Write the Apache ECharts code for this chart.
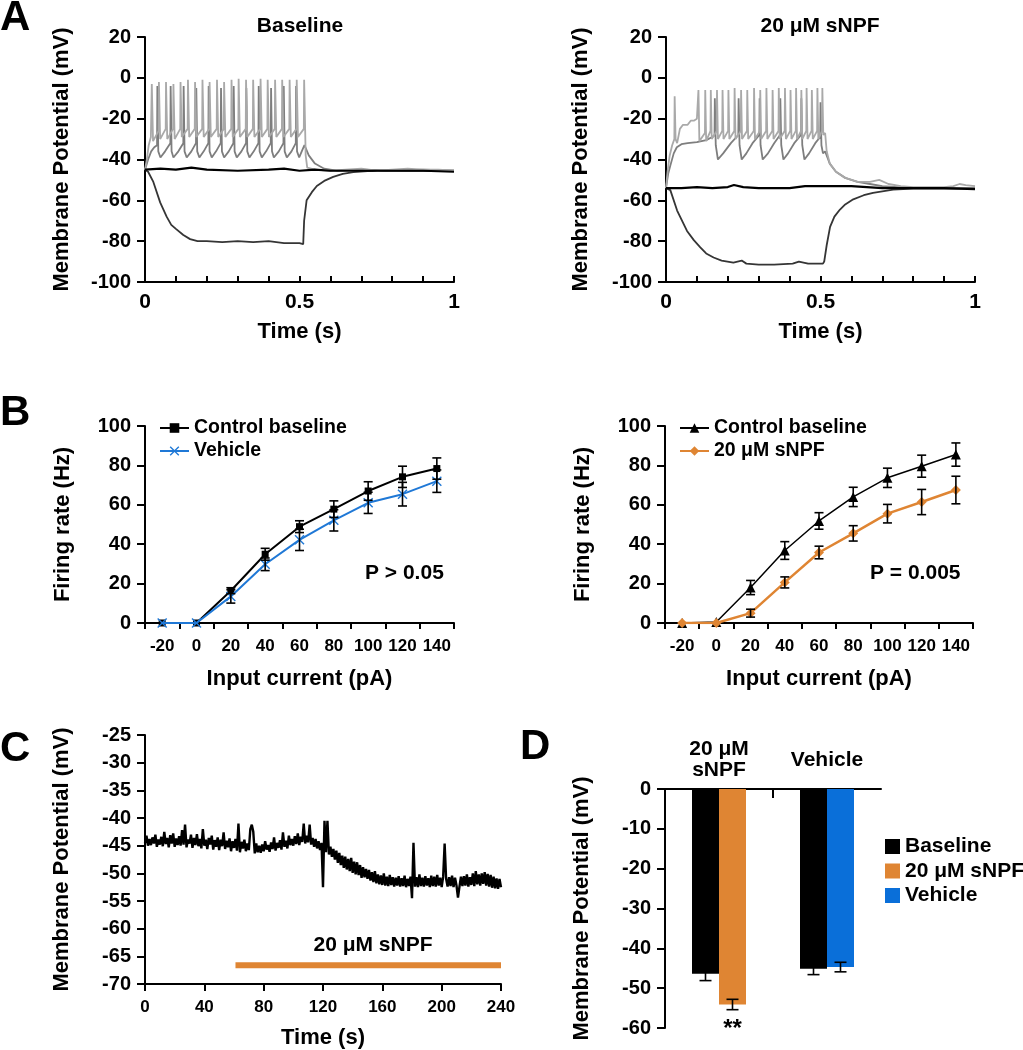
<!DOCTYPE html>
<html>
<head>
<meta charset="utf-8">
<title>sNPF membrane potential</title>
<script src="https://cdn.jsdelivr.net/npm/echarts@6.0.0/dist/echarts.min.js"></script>
<style>
  html, body { margin: 0; padding: 0; background: #fff; }
  #chart { width: 1023px; height: 1050px; }
</style>
</head>
<body>
<div id="chart"></div>
<script>
// ---------- panel A: current clamp traces, [time (s), mV] ----------
const baseLight = [
  [0, -45], [0.006, -40], [0.012, -33], [0.019, -29],
  [0.022, -3], [0.026, -31], [0.044, -26],
  [0.045, -2], [0.049, -30], [0.067, -25],
  [0.068, -2], [0.072, -30], [0.091, -25],
  [0.092, -3], [0.096, -30], [0.114, -25],
  [0.115, -2], [0.119, -29], [0.138, -25],
  [0.139, -1], [0.143, -29], [0.161, -25],
  [0.162, -2], [0.166, -29], [0.185, -25],
  [0.186, -1], [0.190, -29], [0.208, -25],
  [0.209, -2], [0.213, -29], [0.232, -25],
  [0.233, -1], [0.237, -29], [0.255, -25],
  [0.256, -2], [0.260, -29], [0.279, -25],
  [0.280, -1], [0.284, -29], [0.302, -25],
  [0.303, -0.5], [0.307, -29], [0.326, -25],
  [0.327, -1], [0.331, -29], [0.349, -25],
  [0.350, -1], [0.354, -29], [0.373, -25],
  [0.374, -0.5], [0.378, -29], [0.396, -25],
  [0.397, -1], [0.401, -29], [0.420, -25],
  [0.421, -1], [0.425, -29], [0.443, -25],
  [0.444, -1], [0.448, -29], [0.467, -25],
  [0.468, -1], [0.472, -29], [0.490, -25],
  [0.491, -1], [0.495, -29], [0.514, -25],
  [0.515, -1], [0.520, -38], [0.525, -44], [0.55, -45], [0.6, -45.5], [0.65, -45],
  [0.7, -44.5], [0.75, -45.5], [0.8, -45], [0.85, -44.5], [0.9, -45], [0.95, -45], [1, -45.5]
];
const baseMid = [
  [0, -45], [0.01, -40], [0.02, -36], [0.03, -34], [0.039, -33],
  [0.040, -4], [0.043, -36], [0.050, -39], [0.065, -36], [0.082, -32],
  [0.083, -4], [0.086, -36], [0.092, -39], [0.108, -36], [0.124, -32],
  [0.125, -4], [0.128, -36], [0.135, -39], [0.150, -36], [0.165, -32],
  [0.166, -5], [0.169, -36], [0.176, -39], [0.190, -36], [0.205, -32],
  [0.206, -4], [0.209, -36], [0.216, -39], [0.230, -36], [0.245, -32],
  [0.246, -5], [0.249, -36], [0.256, -39], [0.271, -36], [0.286, -32],
  [0.287, -4], [0.290, -36], [0.297, -39], [0.312, -36], [0.327, -32],
  [0.328, -5], [0.331, -36], [0.338, -39], [0.352, -36], [0.367, -32],
  [0.368, -4], [0.371, -36], [0.378, -39], [0.392, -36], [0.407, -32],
  [0.408, -5], [0.411, -36], [0.417, -39], [0.433, -36], [0.448, -32],
  [0.449, -4], [0.452, -36], [0.459, -39], [0.474, -36], [0.488, -32],
  [0.489, -4], [0.492, -36], [0.499, -39], [0.510, -35], [0.516, -33],
  [0.53, -38], [0.55, -42], [0.58, -44.5], [0.62, -45.5], [0.7, -45], [0.8, -45.5], [0.9, -45], [1, -45.5]
];
const baseRest = [
  [0, -45], [0.05, -44.5], [0.1, -45], [0.15, -44], [0.2, -45], [0.3, -45.5], [0.4, -45],
  [0.45, -44.5], [0.5, -45.5], [0.55, -45], [0.6, -45.5], [0.7, -45.5], [0.8, -45.5], [0.9, -45.5], [1, -46]
];
const baseHyper = [
  [0, -45], [0.01, -46], [0.027, -51], [0.049, -61], [0.07, -68], [0.085, -72], [0.09, -72],
  [0.1, -74], [0.124, -77], [0.146, -79], [0.17, -80], [0.2, -80], [0.25, -80.5], [0.3, -80],
  [0.35, -80.5], [0.4, -80], [0.45, -81], [0.5, -81], [0.512, -81.5], [0.515, -70], [0.523, -60],
  [0.54, -56], [0.556, -53], [0.58, -50.5], [0.609, -48.5], [0.64, -47], [0.674, -46.2],
  [0.72, -45.7], [0.8, -45.5], [0.9, -45.5], [1, -45.5]
];

const snpfLight = [
  [0, -54], [0.005, -46], [0.012, -38], [0.02, -33], [0.027, -30], [0.028, -9], [0.031, -30],
  [0.036, -32], [0.045, -25], [0.055, -23], [0.07, -23], [0.08, -21], [0.09, -21], [0.1, -20], [0.104, -20],
  [0.105, -6], [0.108, -31], [0.112, -31], [0.126, -27],
  [0.127, -6], [0.130, -31], [0.144, -26],
  [0.145, -6], [0.148, -30], [0.164, -26],
  [0.165, -6], [0.168, -30], [0.182, -26],
  [0.183, -6], [0.186, -30], [0.201, -26],
  [0.202, -6], [0.205, -30], [0.221, -26],
  [0.222, -5], [0.225, -30], [0.242, -26],
  [0.243, -6], [0.246, -30], [0.262, -26],
  [0.263, -6], [0.266, -30], [0.284, -26],
  [0.285, -5], [0.288, -30], [0.304, -26],
  [0.305, -6], [0.308, -30], [0.324, -26],
  [0.325, -5], [0.328, -30], [0.344, -26],
  [0.345, -6], [0.348, -30], [0.364, -26],
  [0.365, -5], [0.368, -30], [0.384, -26],
  [0.385, -5], [0.388, -30], [0.402, -26],
  [0.403, -6], [0.406, -30], [0.420, -26],
  [0.421, -5], [0.424, -30], [0.437, -26],
  [0.438, -6], [0.441, -30], [0.454, -26],
  [0.455, -5], [0.458, -30], [0.471, -26],
  [0.472, -6], [0.475, -30], [0.489, -26],
  [0.490, -5], [0.493, -30], [0.505, -26],
  [0.506, -5], [0.509, -28], [0.515, -27], [0.52, -36], [0.53, -42], [0.55, -46], [0.58, -49],
  [0.62, -51], [0.66, -51], [0.69, -50], [0.72, -52], [0.76, -53], [0.8, -53.5], [0.85, -53.5],
  [0.9, -53.5], [0.93, -53], [0.95, -52], [0.97, -52.5], [1, -53]
];
const snpfMid = [
  [0, -54], [0.007, -47], [0.014, -43], [0.025, -37], [0.035, -34], [0.05, -32.5], [0.07, -32],
  [0.1, -31.5], [0.13, -30.5], [0.15, -29], [0.157, -28],
  [0.158, -10], [0.161, -33], [0.168, -40], [0.185, -37], [0.21, -32], [0.234, -28],
  [0.235, -10], [0.238, -33], [0.245, -40], [0.26, -37], [0.28, -32], [0.302, -28],
  [0.303, -10], [0.306, -33], [0.313, -40], [0.33, -37], [0.35, -32], [0.369, -28],
  [0.37, -10], [0.373, -33], [0.38, -40], [0.395, -37], [0.415, -32], [0.437, -28],
  [0.438, -10], [0.441, -33], [0.448, -40], [0.463, -37], [0.483, -32], [0.499, -29],
  [0.5, -12], [0.503, -33], [0.508, -37], [0.515, -36], [0.52, -38], [0.53, -42], [0.55, -46],
  [0.58, -49], [0.62, -51], [0.66, -52], [0.7, -53], [0.75, -53.5], [0.8, -54], [0.9, -54], [1, -54]
];
const snpfRest = [
  [0, -54], [0.05, -54], [0.1, -53.5], [0.15, -54], [0.2, -53.5], [0.22, -52.5], [0.25, -53.5],
  [0.3, -54], [0.35, -54], [0.4, -54], [0.45, -53], [0.5, -53], [0.55, -53], [0.6, -53],
  [0.65, -53.5], [0.7, -54], [0.8, -54], [0.9, -54], [1, -54.5]
];
const snpfHyper = [
  [0, -54], [0.014, -55], [0.036, -65], [0.068, -75], [0.09, -79.5], [0.111, -83], [0.13, -86],
  [0.154, -88], [0.18, -89.5], [0.218, -90.5], [0.245, -89.5], [0.26, -91], [0.3, -91.5],
  [0.35, -91.5], [0.41, -91], [0.43, -90], [0.46, -91], [0.508, -91], [0.512, -90], [0.52, -82],
  [0.531, -73], [0.545, -68], [0.563, -64.5], [0.58, -62], [0.606, -59.5], [0.64, -57.5],
  [0.67, -56.3], [0.735, -54.8], [0.8, -54.3], [0.9, -54.2], [1, -54.2]
];

// ---------- panel B: firing rate vs input current ----------
const currents = ['-20', '0', '20', '40', '60', '80', '100', '120', '140'];
const ctrlLeft = [0, 0, 16.4, 34.9, 48.9, 57.8, 67, 74.2, 78.4];
const ctrlLeftErr = [0, 0, 1.5, 3, 3, 4.2, 4.7, 5.4, 5.4];
const vehicleRate = [0, 0, 13.5, 29.8, 42.2, 52.1, 61, 65.4, 72];
const vehicleRateErr = [0, 0, 3.4, 3.2, 5.4, 5.4, 5.4, 6, 5.7];
const ctrlRight = [0, 0.5, 18, 36.8, 51.8, 64, 73.7, 79.6, 85.5];
const ctrlRightErr = [0, 0, 3.6, 4.5, 4.2, 4.9, 4.9, 5.6, 5.9];
const snpfRate = [0, 0, 5, 20.6, 35.8, 45.5, 55.5, 61.4, 67.5];
const snpfRateErr = [0, 0, 2, 2.8, 3.2, 3.9, 4.7, 6.4, 7];

// ---------- panel C: membrane potential, one sample per second ----------
const traceC = [
  -44.5, -43.2, -45.0, -43.8, -44.9, -43.5, -44.6, -43.0, -45.2, -43.9,
  -44.8, -43.4, -45.1, -42.5, -44.7, -43.6, -45.3, -43.1, -44.6, -42.8,
  -45.2, -43.7, -44.9, -43.3, -45.0, -42.2, -44.8, -41.2, -45.3, -43.9,
  -44.6, -43.0, -45.4, -43.6, -44.9, -42.9, -45.1, -43.8, -45.5, -42.0,
  -45.0, -43.9, -45.6, -43.6, -44.8, -43.2, -45.7, -44.0, -45.2, -43.5,
  -45.8, -43.9, -45.1, -42.6, -45.6, -44.1, -45.3, -43.7, -46.0, -44.2,
  -45.4, -43.8, -45.9, -41.0, -46.2, -44.3, -45.5, -43.9, -46.0, -44.6,
  -45.8, -42.0, -41.2, -42.5, -46.4, -44.6, -46.2, -45.0, -46.3, -44.8,
  -46.0, -44.2, -45.7, -44.9, -46.1, -44.4, -45.6, -43.5, -45.9, -44.5,
  -45.4, -44.0, -45.7, -42.6, -45.2, -44.1, -45.5, -43.2, -44.9, -43.8,
  -45.0, -43.3, -44.7, -42.8, -44.9, -43.4, -44.3, -41.0, -44.6, -43.2,
  -44.4, -41.2, -44.8, -43.6, -45.2, -43.8, -45.5, -44.2, -45.8, -44.5,
  -52.5, -40.5, -46.2, -40.5, -46.6, -45.2, -47.0, -45.6, -47.5, -45.9,
  -48.1, -46.3, -48.5, -46.8, -49.0, -47.0, -49.3, -47.4, -49.6, -47.2,
  -49.9, -47.9, -50.2, -48.0, -50.3, -48.5, -50.8, -48.9, -50.7, -49.2,
  -51.0, -49.4, -51.3, -49.8, -51.6, -49.6, -51.8, -50.2, -52.0, -50.4,
  -52.1, -50.0, -52.2, -50.6, -52.3, -50.3, -52.1, -50.7, -52.4, -50.8,
  -52.2, -50.5, -52.4, -50.9, -52.3, -50.4, -52.5, -51.0, -52.3, -50.6,
  -54.5, -44.5, -52.4, -50.7, -52.5, -50.2, -52.3, -50.8, -52.4, -50.5,
  -52.2, -50.9, -52.5, -50.4, -52.3, -50.6, -52.4, -50.3, -52.2, -50.8,
  -52.5, -50.6, -44.6, -51.0, -52.4, -50.7, -52.3, -50.4, -52.5, -50.8,
  -52.2, -54.4, -52.4, -50.6, -52.3, -50.5, -52.2, -50.2, -52.4, -50.7,
  -52.1, -50.0, -52.3, -49.6, -52.0, -50.2, -52.2, -50.0, -51.9, -49.8,
  -52.2, -50.1, -52.4, -50.3, -52.6, -50.6, -52.7, -50.9, -52.8, -51.0,
  -52.5
];
const applyStart = 61;   // s
const applyEnd = 240;    // s
const applyLevel = -66.6; // mV, where the bar sits

// ---------- panel D: resting potential ----------
const dGroups = ['20 μM\nsNPF', 'Vehicle'];
const dBaseline = [-46.4, -45.1];
const dBaselineErr = [1.7, 1.5];
const dSnpf = [-54.1, '-'];
const dSnpfErr = [1.3, 0];
const dVehicle = ['-', -44.7];
const dVehicleErr = [0, 1.2];

const legendText = {
  ctrlL: 'Control baseline', vehL: 'Vehicle',
  ctrlR: 'Control baseline', snpfR: '20 μM sNPF',
  barBase: 'Baseline', barSnpf: '20 μM sNPF', barVeh: 'Vehicle'
};

const FONT = 'Liberation Sans';
const ORANGE = '#df8533';
const BLUE = '#1f78d6';
const BAR_BLUE = '#0a6fd9';
const BAR_W = 27;

function bold(size, extra) {
  return Object.assign({ color: '#000', fontFamily: FONT, fontWeight: 'bold', fontSize: size }, extra);
}
const blackLine = { color: '#000', width: 2 };

function valueAxis(gridIndex, min, max, interval, extra) {
  return Object.assign({
    type: 'value', gridIndex, min, max, interval,
    axisLine: { show: true, onZero: false, lineStyle: blackLine },
    axisTick: { show: true, length: 8, lineStyle: blackLine },
    axisLabel: bold(20, { margin: 14 }),
    splitLine: { show: false },
    nameLocation: 'middle',
    nameTextStyle: bold(22)
  }, extra);
}

function traceSeries(axis, data, color, width) {
  return {
    type: 'line', xAxisIndex: axis, yAxisIndex: axis, data,
    symbol: 'none', lineStyle: { color, width: width || 1.8 }, silent: true
  };
}

function errorBars(halfCap, halfBar) {
  return (params, api) => {
    const cat = api.value(0), mean = api.value(1), err = api.value(2), side = api.value(3);
    const hi = api.coord([cat, mean + err]);
    const lo = api.coord([cat, mean - err]);
    const x = hi[0] + side * halfBar;
    const style = { stroke: '#000', lineWidth: 1.6 };
    return {
      type: 'group',
      children: [
        { type: 'line', shape: { x1: x, y1: hi[1], x2: x, y2: lo[1] }, style },
        { type: 'line', shape: { x1: x - halfCap, y1: hi[1], x2: x + halfCap, y2: hi[1] }, style },
        { type: 'line', shape: { x1: x - halfCap, y1: lo[1], x2: x + halfCap, y2: lo[1] }, style }
      ]
    };
  };
}

function errorSeries(axis, values, errs, side, halfCap, halfBar) {
  return {
    type: 'custom', xAxisIndex: axis, yAxisIndex: axis, z: 5, silent: true,
    renderItem: errorBars(halfCap, halfBar || 0),
    data: values.map((v, i) => [i, v, errs[i], side]).filter((d) => d[2] > 0)
  };
}

function rateAxes(grid) {
  return {
    x: {
      type: 'category', gridIndex: grid, data: currents, boundaryGap: true,
      axisLine: { show: true, onZero: false, lineStyle: blackLine },
      axisTick: { show: true, length: 6, lineStyle: blackLine },
      axisLabel: bold(17, { margin: 15, interval: 0 }),
      name: 'Input current (pA)', nameLocation: 'middle', nameGap: 45, nameTextStyle: bold(22)
    },
    y: valueAxis(grid, 0, 100, 20, { name: 'Firing rate (Hz)', nameGap: 71 })
  };
}

function timeAxisA(grid) {
  return valueAxis(grid, 0, 1, 0.1, {
    name: 'Time (s)', nameGap: 39,
    axisTick: { show: true, inside: true, length: 6, lineStyle: blackLine },
    axisLabel: bold(21, {
      margin: 10,
      formatter: (v) => ([0, 0.5, 1].includes(v) ? String(v) : '')
    })
  });
}

function label(text, x, y, size, align) {
  return {
    type: 'text', x, y,
    style: {
      text, fill: '#000', font: `bold ${size}px "${FONT}"`,
      align: align || 'center', verticalAlign: 'middle'
    }
  };
}

const legendBase = {
  orient: 'vertical', selectedMode: false, itemWidth: 29, itemHeight: 12,
  textStyle: bold(19.5, { lineHeight: 20 }),
  formatter: (name) => legendText[name]
};

// ENTRY POINT
(function () {
  const chart = echarts.init(document.getElementById('chart'), null, { renderer: 'canvas' });
  const bLeft = rateAxes(2);
  const bRight = rateAxes(3);

  const options = {
    animation: false,
    backgroundColor: '#fff',
    grid: [
      { left: 145, top: 37, width: 309, height: 245 },
      { left: 666, top: 37, width: 309, height: 245 },
      { left: 145, top: 426, width: 309, height: 197 },
      { left: 665, top: 426, width: 308, height: 197 },
      { left: 145, top: 735, width: 356, height: 251 },
      { left: 665, top: 789, width: 216, height: 239 }
    ],
    xAxis: [
      timeAxisA(0),
      timeAxisA(1),
      bLeft.x,
      bRight.x,
      valueAxis(4, 0, 240, 40, { name: 'Time (s)', nameGap: 43,
        axisLabel: bold(17, { margin: 15 }),
        axisTick: { show: true, length: 7, lineStyle: blackLine } }),
      {
        type: 'category', gridIndex: 5, data: dGroups, position: 'top',
        axisLine: { show: true, onZero: false, lineStyle: blackLine },
        axisTick: { show: false },
        axisLabel: bold(21, { margin: 29, lineHeight: 21, verticalAlign: 'middle', interval: 0 })
      },
      // companion axis on panel D, only for the tick between the two groups
      {
        type: 'value', gridIndex: 5, min: 0, max: dGroups.length, position: 'top',
        axisLine: { show: false },
        axisTick: { show: true, inside: true, length: 9, lineStyle: blackLine, customValues: [1] },
        axisLabel: { show: false },
        splitLine: { show: false }
      }
    ],
    yAxis: [
      valueAxis(0, -100, 20, 20, { name: 'Membrane Potential (mV)', nameGap: 72 }),
      valueAxis(1, -100, 20, 20, { name: 'Membrane Potential (mV)', nameGap: 74 }),
      bLeft.y,
      bRight.y,
      valueAxis(4, -70, -25, 5, { name: 'Membrane Potential (mV)', nameGap: 72 }),
      valueAxis(5, -60, 0, 10, { name: 'Membrane Potential (mV)', nameGap: 72 })
    ],
    legend: [
      Object.assign({ data: ['ctrlL', 'vehL'], left: 154, top: 413, itemGap: 3 }, legendBase),
      Object.assign({ data: ['ctrlR', 'snpfR'], left: 674, top: 413, itemGap: 3 }, legendBase),
      Object.assign({}, legendBase, {
        data: ['barBase', 'barSnpf', 'barVeh'], left: 880, top: 831, itemGap: 3.5,
        itemWidth: 15, itemHeight: 15, icon: 'rect', textStyle: bold(21, { lineHeight: 20 })
      })
    ],
    graphic: [
      label('A', 0, 18, 42, 'left'),
      label('B', 0, 413, 42, 'left'),
      label('C', 0, 749, 42, 'left'),
      label('D', 520, 747, 42, 'left'),
      label('Baseline', 300, 26, 21),
      label('20 μM sNPF', 820, 26, 21),
      label('P > 0.05', 365, 573, 21, 'left'),
      label('P = 0.005', 870, 573, 21, 'left'),
      label('20 μM sNPF', 373, 945, 21)
    ],
    series: [
      // A, baseline
      traceSeries(0, baseHyper, '#353535'),
      traceSeries(0, baseMid, '#7e7e7e'),
      traceSeries(0, baseLight, '#a9a9a9'),
      traceSeries(0, baseRest, '#000', 2.2),
      // A, sNPF
      traceSeries(1, snpfHyper, '#353535'),
      traceSeries(1, snpfMid, '#7e7e7e'),
      traceSeries(1, snpfLight, '#a9a9a9'),
      traceSeries(1, snpfRest, '#000', 2.2),

      // B, left
      errorSeries(2, ctrlLeft, ctrlLeftErr, 0, 4.5),
      errorSeries(2, vehicleRate, vehicleRateErr, 0, 4.5),
      { name: 'ctrlL', type: 'line', xAxisIndex: 2, yAxisIndex: 2, data: ctrlLeft,
        symbol: 'rect', symbolSize: 7, itemStyle: { color: '#000' }, lineStyle: { color: '#000', width: 2 }, z: 3 },
      { name: 'vehL', type: 'line', xAxisIndex: 2, yAxisIndex: 2, data: vehicleRate,
        symbol: 'path://M1,0L5,4L9,0L10,1L6,5L10,9L9,10L5,6L1,10L0,9L4,5L0,1Z', symbolSize: 10,
        itemStyle: { color: BLUE }, lineStyle: { color: BLUE, width: 2 }, z: 4 },

      // B, right
      errorSeries(3, ctrlRight, ctrlRightErr, 0, 4.5),
      errorSeries(3, snpfRate, snpfRateErr, 0, 4.5),
      { name: 'ctrlR', type: 'line', xAxisIndex: 3, yAxisIndex: 3, data: ctrlRight,
        symbol: 'triangle', symbolSize: 10, itemStyle: { color: '#000' }, lineStyle: { color: '#000', width: 1.5 }, z: 3 },
      { name: 'snpfR', type: 'line', xAxisIndex: 3, yAxisIndex: 3, data: snpfRate,
        symbol: 'diamond', symbolSize: 10, itemStyle: { color: ORANGE }, lineStyle: { color: ORANGE, width: 2.5 }, z: 4 },

      // C
      { type: 'line', xAxisIndex: 4, yAxisIndex: 4, symbol: 'none', silent: true,
        data: traceC.map((v, i) => [i, v]), lineStyle: { color: '#000', width: 2.4, join: 'bevel' } },
      { type: 'line', xAxisIndex: 4, yAxisIndex: 4, symbol: 'none', silent: true,
        data: [[applyStart, applyLevel], [applyEnd, applyLevel]], lineStyle: { color: ORANGE, width: 6, cap: 'butt' } },

      // D
      { name: 'barBase', type: 'bar', xAxisIndex: 5, yAxisIndex: 5, stack: 'base', data: dBaseline,
        barWidth: BAR_W, barGap: '0%', itemStyle: { color: '#000' } },
      { name: 'barSnpf', type: 'bar', xAxisIndex: 5, yAxisIndex: 5, stack: 'drug', data: dSnpf,
        barWidth: BAR_W, barGap: '0%', itemStyle: { color: ORANGE },
        label: { show: true, position: 'bottom', distance: 13, formatter: '**',
          color: '#000', fontFamily: FONT, fontWeight: 'bold', fontSize: 24 } },
      { name: 'barVeh', type: 'bar', xAxisIndex: 5, yAxisIndex: 5, stack: 'drug', data: dVehicle,
        barWidth: BAR_W, barGap: '0%', itemStyle: { color: BAR_BLUE } },
      errorSeries(5, dBaseline, dBaselineErr, -1, 6, BAR_W / 2),
      errorSeries(5, dSnpf.map((v) => (v === '-' ? 0 : v)), dSnpfErr, 1, 6, BAR_W / 2),
      errorSeries(5, dVehicle.map((v) => (v === '-' ? 0 : v)), dVehicleErr, 1, 6, BAR_W / 2)
    ]
  };
  chart.setOption(options);
})();
</script>
</body>
</html>
